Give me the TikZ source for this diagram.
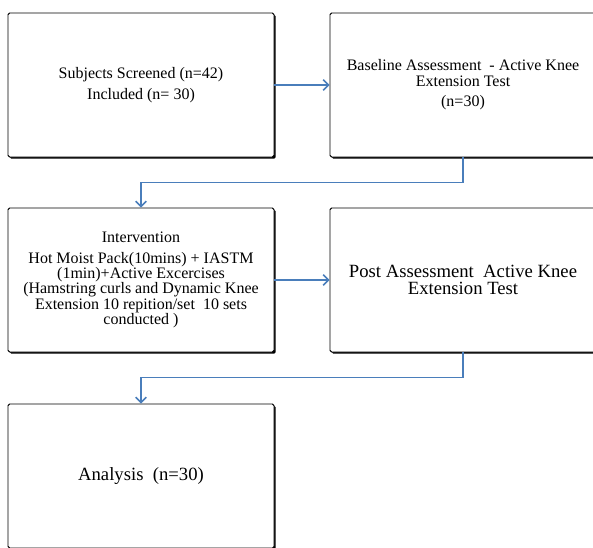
\documentclass[tikz,border=0pt]{standalone}
\usepackage{fontspec}
\setmainfont{Liberation Serif}
\usetikzlibrary{arrows.meta,shadows}
\definecolor{flowblue}{RGB}{74,126,187}

\begin{document}
\begin{tikzpicture}[
  x=0.75pt, y=0.75pt,
  box/.style={
    draw,
    line width=0.7pt,
    rounded corners=1.2pt,
    fill=white,
    align=center,
    minimum width=199.5pt,
    minimum height=108pt,
    inner sep=4pt,
    font=\fontsize{12}{11.5}\selectfont,
    general shadow={fill=black, shadow xshift=1.3pt, shadow yshift=-1.3pt}
  },
  arrow/.style={-{Straight Barb[length=4pt,width=8pt]}, draw=flowblue, line width=1.1pt}
]
\useasboundingbox (0,0) rectangle (593,-547);

\node[box] (screen) at (141,-85) {Subjects Screened (n=42)\\[4.5pt]Included (n= 30)};
\node[box] (base) at (463,-85) {Baseline Assessment \ - Active Knee\\Extension Test\\[4pt](n=30)};
\node[box] (interv) at (141,-280) {Intervention\\[4pt]Hot Moist Pack(10mins) + IASTM\\(1min)+Active Excercises\\(Hamstring curls and Dynamic Knee\\Extension 10 repition/set \ 10 sets\\conducted )};
\node[box, font=\fontsize{14}{13}\selectfont] (post) at (463,-280) {Post Assessment \ Active Knee\\Extension Test};
\node[box, font=\fontsize{14}{14}\selectfont] (analysis) at (141,-476) {Analysis \ (n=30)};

\draw[arrow] (screen) -- (base);
\draw[arrow] (base.south) -- ++(0,-25) -| (interv.north);
\draw[arrow] (interv) -- (post);
\draw[arrow] (post.south) -- ++(0,-25) -| (analysis.north);
\end{tikzpicture}
\end{document}
